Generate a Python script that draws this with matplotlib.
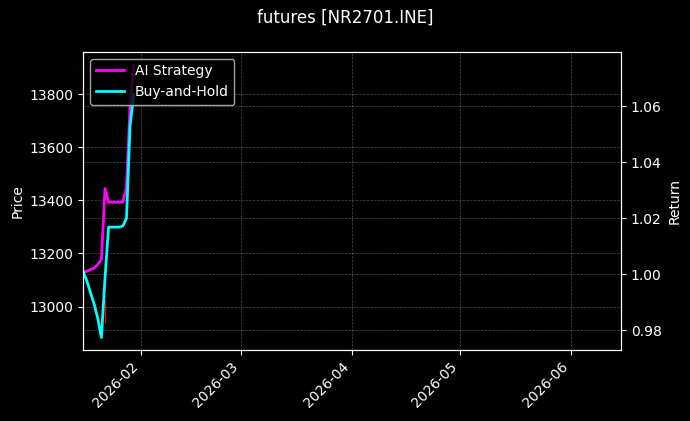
import matplotlib
matplotlib.use("Agg")
import matplotlib.pyplot as plt
import matplotlib.dates as mdates
import pandas as pd

plt.style.use("dark_background")

# daily points
dates = pd.date_range("2026-01-16", "2026-01-30", freq="D")
ai_strategy = [1.0007, 1.0011, 1.0017, 1.0022, 1.0035, 1.0052, 1.0306, 1.0257,
               1.0257, 1.0257, 1.0257, 1.0257, 1.0310, 1.0600, 1.0745]
buy_hold = [1.0007, 0.9974, 0.9932, 0.9892, 0.9842, 0.9774, 0.9985, 1.0168,
            1.0168, 1.0168, 1.0168, 1.0172, 1.0200, 1.0530, 1.0640]

# short red price mark (left axis)
price_dates = pd.to_datetime(["2026-01-22 03:00"])
price_low = [12939]
price_high = [13025]

fig, ax1 = plt.subplots(figsize=(6.9, 4.21), dpi=100)
fig.subplots_adjust(left=0.121, right=0.9, top=0.877, bottom=0.169)

ax1.vlines(price_dates, price_low, price_high, color="red", linewidth=1)
ax1.set_ylim(12837, 13959)
ax1.set_ylabel("Price")
ax1.grid(True, linestyle="--", linewidth=0.5, alpha=0.3)

ax2 = ax1.twinx()
ax2.plot(dates, ai_strategy, color="magenta", linewidth=2, label="AI Strategy")
ax2.plot(dates, buy_hold, color="cyan", linewidth=2, label="Buy-and-Hold")
ax2.set_ylim(0.973, 1.0794)
ax2.set_ylabel("Return")
ax2.grid(True, linestyle="--", linewidth=0.5, alpha=0.3)
ax2.legend(loc="upper left")

ax1.set_xlim(pd.Timestamp("2026-01-16"), pd.Timestamp("2026-06-15"))
ax1.xaxis.set_major_locator(mdates.MonthLocator())
ax1.xaxis.set_major_formatter(mdates.DateFormatter("%Y-%m"))
plt.setp(ax1.get_xticklabels(), rotation=45, ha="right")

fig.suptitle("futures [NR2701.INE]")
fig.savefig("out.png")
